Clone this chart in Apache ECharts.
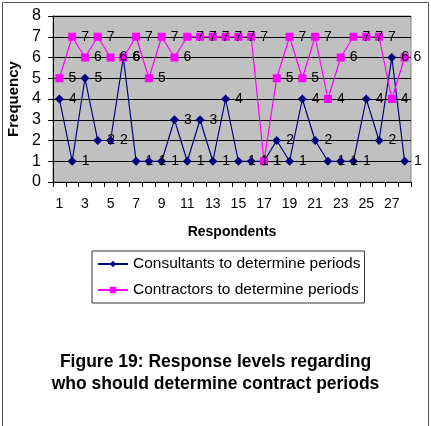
<!DOCTYPE html>
<html lang="en" style="height: 100%">
<head>
  <meta charset="utf-8">
</head>
<body style="height: 100%; margin: 0; background: #fff">
  <div id="container" style="width: 431px; height: 426px"></div>
  <script type="text/javascript" src="https://cdn.jsdelivr.net/npm/echarts@6/dist/echarts.min.js"></script>
  <script type="text/javascript">
    var respondents = [];
    for (var i = 1; i <= 28; i++) respondents.push(String(i));
    var consultants = [4, 1, 5, 2, 2, 6, 1, 1, 1, 3, 1, 3, 1, 4, 1, 1, 1, 2, 1, 4, 2, 1, 1, 1, 4, 2, 6, 1];
    var contractors = [5, 7, 6, 7, 6, 6, 7, 5, 7, 6, 7, 7, 7, 7, 7, 7, 1, 5, 7, 5, 7, 4, 6, 7, 7, 7, 4, 6];

    var FONT = 'Liberation Sans';
    var dom = document.getElementById('container');
    var myChart = echarts.init(dom, null, { renderer: 'canvas' });

    var labelStyle = {
      show: true,
      position: 'right',
      distance: 5,
      color: '#000',
      fontFamily: FONT,
      fontSize: 14
    };

    var option = {
      animation: false,
      backgroundColor: '#fff',
      title: {
        text: 'Figure 19: Response levels regarding\nwho should determine contract periods',
        left: 'center',
        top: 346,
        textStyle: {
          fontFamily: FONT,
          fontWeight: 'bold',
          fontSize: 17.5,
          lineHeight: 22,
          color: '#000'
        }
      },
      graphic: [
        {
          type: 'rect',
          shape: { x: 2.5, y: 2.5, width: 426, height: 430 },
          style: { fill: null, stroke: '#555', lineWidth: 1 },
          z: -1
        }
      ],
      legend: {
        orient: 'vertical',
        left: 92,
        top: 251,
        borderColor: '#333',
        borderWidth: 1,
        padding: [5, 4, 5, 5],
        itemGap: 10,
        itemWidth: 30,
        itemHeight: 8,
        textStyle: { fontFamily: FONT, fontSize: 15.5, color: '#000' },
        data: ['Consultants to determine periods', 'Contractors to determine periods']
      },
      grid: {
        left: 53,
        right: 20,
        top: 16,
        bottom: 244,
        outerBoundsMode: 'none',
        containLabel: false,
        show: true,
        backgroundColor: '#c0c0c0',
        borderColor: '#808080',
        borderWidth: 1
      },
      xAxis: {
        type: 'category',
        data: respondents,
        boundaryGap: true,
        name: 'Respondents',
        nameLocation: 'middle',
        nameGap: 43,
        nameTextStyle: { fontFamily: FONT, fontWeight: 'bold', fontSize: 14, color: '#000' },
        axisLine: { lineStyle: { color: '#000' } },
        axisTick: { show: true, interval: 0, length: 5, lineStyle: { color: '#000' } },
        axisLabel: { interval: 1, margin: 15, fontFamily: FONT, fontSize: 14, color: '#000' },
        splitLine: { show: false }
      },
      yAxis: {
        type: 'value',
        min: 0,
        max: 8,
        interval: 1,
        name: 'Frequency',
        nameLocation: 'middle',
        nameGap: 29,
        nameTextStyle: { fontFamily: FONT, fontWeight: 'bold', fontSize: 15, color: '#000' },
        axisLine: { show: true, lineStyle: { color: '#000' } },
        axisTick: { show: true, length: 5, lineStyle: { color: '#000' } },
        axisLabel: { margin: 12, fontFamily: FONT, fontSize: 16, color: '#000' },
        splitLine: { show: true, lineStyle: { color: '#000', width: 1 } }
      },
      series: [
        {
          name: 'Consultants to determine periods',
          type: 'line',
          data: consultants,
          showAllSymbol: true,
          symbol: 'diamond',
          symbolSize: 9,
          color: '#000080',
          lineStyle: { color: '#000080', width: 1.2 },
          itemStyle: { color: '#000080' },
          label: labelStyle
        },
        {
          name: 'Contractors to determine periods',
          type: 'line',
          data: contractors,
          showAllSymbol: true,
          symbol: 'rect',
          symbolSize: 8,
          color: '#ff00ff',
          lineStyle: { color: '#ff00ff', width: 1.2 },
          itemStyle: { color: '#ff00ff' },
          label: labelStyle
        }
      ]
    };

    myChart.setOption(option);
    window.addEventListener('resize', myChart.resize);
  </script>
</body>
</html>
